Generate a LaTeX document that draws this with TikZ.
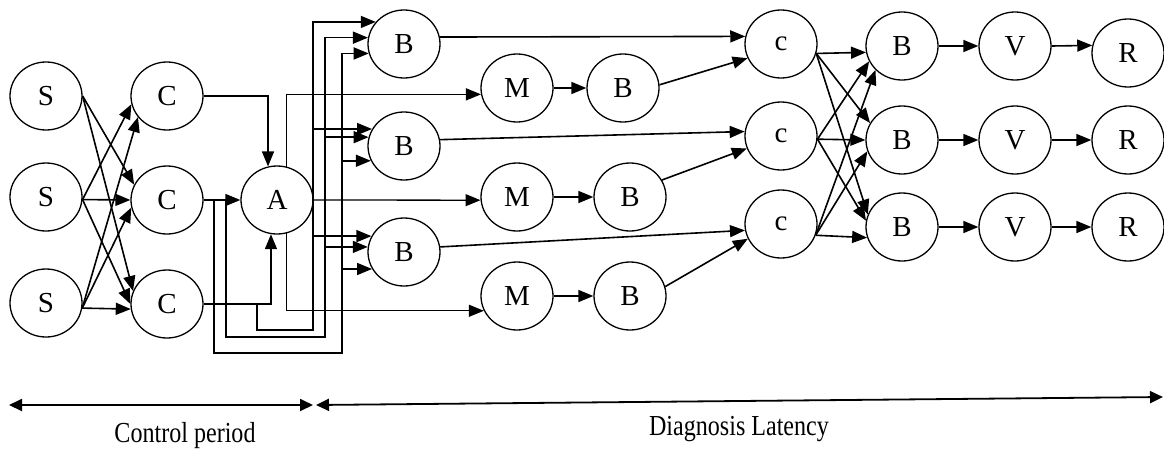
\documentclass[tikz,border=0pt]{standalone}
\usepackage{fontspec}
\setmainfont{Liberation Serif}
\usetikzlibrary{shapes.geometric,arrows.meta}
\begin{document}
\begin{tikzpicture}[x=1pt,y=-1pt,
  blob/.style={draw,ellipse,line width=1.3pt,minimum width=72pt,minimum height=68pt,
    inner sep=0pt,font=\fontsize{29}{29}\selectfont},
  wire/.style={line width=1.6pt},
  thinwire/.style={line width=1.3pt},
  arr/.style={wire,-{Triangle[length=15pt,width=12pt]}},
  tarr/.style={thinwire,-{Triangle[length=15pt,width=12pt]}},
  span/.style={line width=1.8pt,{Triangle[length=13pt,width=12pt]}-{Triangle[length=13pt,width=12pt]}},
  caption/.style={font=\fontsize{29}{29}\selectfont,xscale=0.83}]
\useasboundingbox (0,0) rectangle (1164,453);

% sensors, controllers, arbiter
\node[blob] (S1) at (46,96) {S};
\node[blob] (S2) at (46,197) {S};
\node[blob] (S3) at (46,303) {S};
\node[blob] (C1) at (167,96) {C};
\node[blob] (C2) at (167,200) {C};
\node[blob] (C3) at (167,304) {C};
\node[blob] (A) at (277,200) {A};

% first bus column
\node[blob] (B1) at (404,44) {B};
\node[blob] (B2) at (404,146) {B};
\node[blob] (B3) at (404,252) {B};
\node[blob] (M1) at (517,88) {M};
\node[blob] (M2) at (517,197) {M};
\node[blob] (M3) at (517,296) {M};
\node[blob] (D1) at (623,88) {B};
\node[blob] (D2) at (630,197) {B};
\node[blob] (D3) at (630,296) {B};

% comparators and output chain
\node[blob] (c1) at (781,44) {c};
\node[blob] (c2) at (781,136) {c};
\node[blob] (c3) at (781,224) {c};
\node[blob] (E1) at (902,46) {B};
\node[blob] (E2) at (902,140) {B};
\node[blob] (E3) at (902,227) {B};
\node[blob] (V1) at (1015,46) {V};
\node[blob] (V2) at (1015,140) {V};
\node[blob] (V3) at (1015,227) {V};
\node[blob] (R1) at (1128,53) {R};
\node[blob] (R2) at (1128,140) {R};
\node[blob] (R3) at (1128,227) {R};

% S -> C
\draw[arr] (S1.east) -- (C2.155);
\draw[arr] (S1.east) -- (C3.159);
\draw[arr] (S2.-4) -- (C1.193);
\draw[arr] (S2.-4) -- (C2.west);
\draw[arr] (S2.-4) -- (C3.180);
\draw[arr] (S3.-8) -- (C1.216);
\draw[arr] (S3.-8) -- (C2.192);
\draw[arr] (S3.-8) -- (C3.188);

% C -> A
\draw[arr] (C1.east) -| (A.105);
\draw[arr] (C2.east) -- (A.west);
\draw[arr] (C3.east) -| (A.-100);

% feedback buses from the controllers to the first B column
\coordinate (fa) at (257,304);
\coordinate (ba) at (313,330);
\coordinate (fb) at (226,200);
\coordinate (bb) at (325,337);
\coordinate (fc) at (214,200);
\coordinate (bc) at (342,353);
\draw[arr] (fa) |- (ba) |- (B1.142);
\draw[arr] (ba |- B2.152) -- (B2.152);
\draw[arr] (ba |- B3.154) -- (B3.154);
\draw[arr] (fb) |- (bb) |- (B1.170);
\draw[arr] (bb |- B2.166) -- (B2.166);
\draw[arr] (bb |- B3.172) -- (B3.172);
\draw[arr] (fc) |- (bc) |- (B1.195);
\draw[arr] (bc |- B2.204) -- (B2.204);
\draw[arr] (bc |- B3.208) -- (B3.208);

% A -> M
\draw[tarr] (A.74) |- (M1.190);
\draw[tarr] (A.east) -- (M2.185);
\draw[tarr] (A.-74) |- (M3.204);

% M -> B
\draw[arr] (M1.east) -- (D1.west);
\draw[arr] (M2.east) -- (D2.west);
\draw[arr] (M3.east) -- (D3.west);

% B -> c
\draw[arr] (B1.11) -- (c1.168);
\draw[arr] (D1.5) -- (c1.203);
\draw[arr] (B2.10) -- (c2.173);
\draw[arr] (D2.28) -- (c2.200);
\draw[arr] (B3.8) -- (c3.190);
\draw[arr] (D3.15) -- (c3.204);

% c -> B
\draw[arr] (c1.-15) -- (E1.190);
\draw[arr] (c1.-15) -- (E2.152);
\draw[arr] (c1.-15) -- (E3.160);
\draw[arr] (c2.-5) -- (E1.205);
\draw[arr] (c2.-5) -- (E2.180);
\draw[arr] (c2.-5) -- (E3.170);
\draw[arr] (c3.-18) -- (E1.222);
\draw[arr] (c3.-18) -- (E2.198);
\draw[arr] (c3.-18) -- (E3.197);

% B -> V -> R
\draw[arr] (E1.east) -- (V1.west);
\draw[arr] (E2.east) -- (V2.west);
\draw[arr] (E3.east) -- (V3.west);
\draw[arr] (V1.east) -- (R1.168);
\draw[arr] (V2.east) -- (R2.west);
\draw[arr] (V3.east) -- (R3.west);

% timing spans
\coordinate (t0) at (9,405);
\coordinate (t1) at (313,405);
\coordinate (t2) at (316,405);
\coordinate (t3) at (1163,397);
\draw[span] (t0) -- (t1);
\draw[span] (t2) -- (t3);
\node[caption] (cp) at (185,436) {Control period};
\node[caption] (dl) at (739,429) {Diagnosis Latency};
\end{tikzpicture}
\end{document}
